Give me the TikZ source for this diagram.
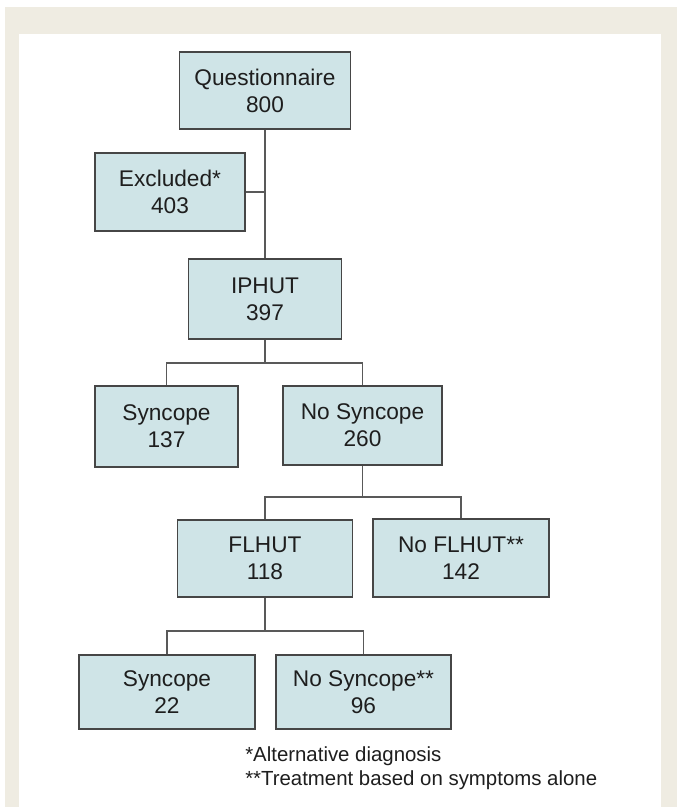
\documentclass[tikz,border=0pt]{standalone}
\usepackage{fontspec}
\setmainfont{Liberation Sans}
\usepackage{xcolor}

\begin{document}
\begin{tikzpicture}[x=0.75pt, y=-0.75pt]

\definecolor{panelbeige}{RGB}{239, 236, 226}
\definecolor{boxfill}{RGB}{207, 228, 231}
\definecolor{boxline}{RGB}{70, 70, 70}
\definecolor{textdark}{RGB}{30, 30, 30}

\tikzset{
    box/.style={
        draw=boxline, line width=1.3pt, fill=boxfill,
        rectangle, inner sep=2pt,
        minimum height=58pt,
        text=textdark, align=center,
        font=\fontsize{17}{20.25}\selectfont
    },
    link/.style={
        draw=boxline!90, line width=1.1pt
    },
    note/.style={
        text=textdark, inner sep=0pt, anchor=base west,
        font=\fontsize{15.3}{18}\selectfont
    }
}

% Frame and white panel
\useasboundingbox (0,0) rectangle (677,807);
\fill[white] (0,0) rectangle (677,807);
\fill[panelbeige] (5,7) rectangle (677,807);
\fill[white] (19,34) rectangle (661,807);

% Boxes
\node[box, minimum width=128.25pt, minimum height=57.75pt] (quest) at (265, 90.5) {Questionnaire\\800};
\node[box, minimum width=112.5pt, minimum height=58.5pt] (excl) at (170, 192) {Excluded*\\403};
\node[box, minimum width=114.75pt, minimum height=60pt] (iphut) at (265, 299) {IPHUT\\397};

\node[box, minimum width=107.25pt, minimum height=60.75pt] (syn1) at (166.5, 426.5) {Syncope\\137};
\node[box, minimum width=119.25pt, minimum height=59.25pt] (nosyn1) at (362.5, 425.5) {No Syncope\\260};

\node[box, minimum width=131.25pt, minimum height=57.75pt] (flhut) at (265, 558.5) {FLHUT\\118};
\node[box, minimum width=132pt, minimum height=58.5pt] (noflhut) at (461, 558) {No FLHUT**\\142};

\node[box, minimum width=132pt, minimum height=55.5pt] (syn2) at (167, 692) {Syncope\\22};
\node[box, minimum width=131.25pt, minimum height=55.5pt] (nosyn2) at (363.5, 692) {No Syncope**\\96};

% Branch points
\coordinate (split1) at (265, 363);
\coordinate (split2) at (362.5, 497);
\coordinate (split3) at (265, 631);

% Connectors
\draw[link] (quest) -- (iphut);
\draw[link] (excl.east) -- (excl.east -| quest.south);

\draw[link] (iphut) -- (split1);
\draw[link] (syn1) |- (split1) -| (nosyn1);

\draw[link] (nosyn1) -- (split2);
\draw[link] (flhut) |- (split2) -| (noflhut);

\draw[link] (flhut) -- (split3);
\draw[link] (syn2) |- (split3) -| (nosyn2);

% Footnotes
\node[note] (note1) at (245, 761) {*Alternative diagnosis};
\node[note] (note2) at (245, 785) {**Treatment based on symptoms alone};

\end{tikzpicture}
\end{document}
